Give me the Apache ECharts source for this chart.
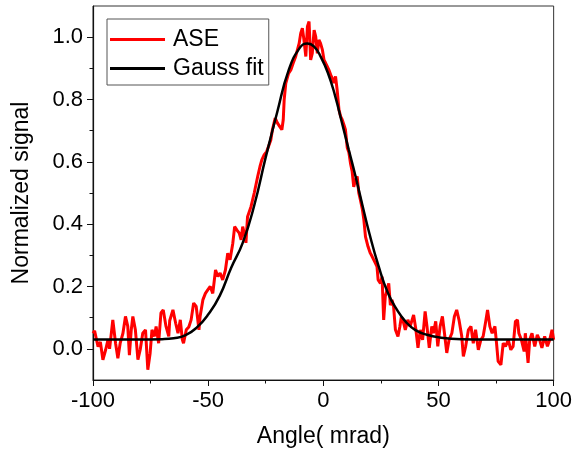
<!DOCTYPE html>
<html>
<head>
<meta charset="utf-8">
<script src="https://cdn.jsdelivr.net/npm/echarts@6/dist/echarts.min.js"></script>
<style>html,body{margin:0;padding:0;background:#fff}#c{width:575px;height:455px}</style>
</head>
<body>
<div id="c"></div>
<script>
// ASE measured signal (angle in mrad, normalized signal)
const aseAngle = [-100,-99.3,-98.5,-97.8,-96.8,-95.7,-94.5,-93.5,-92.8,-91.4,-90.2,-89.2,-88.2,-87.0,-85.9,-84.9,-84.2,-83.4,-82.7,-81.6,-80.5,-79.5,-78.4,-77.2,-76.2,-75.2,-74.4,-73.3,-72.6,-71.5,-70.5,-69.5,-68.3,-67.1,-66.7,-66.1,-65.3,-64.1,-63.1,-62.1,-61.2,-60.7,-59.5,-58.4,-57.4,-56.3,-55.2,-54.0,-53.5,-52.3,-51.2,-50.1,-49.1,-48.0,-46.8,-45.8,-44.8,-43.7,-42.5,-41.5,-40.5,-39.3,-38.5,-37.5,-36.5,-35.7,-35.0,-34.3,-33.6,-32.9,-31.4,-30.0,-28.5,-27.5,-26.7,-25.7,-24.6,-23.8,-22.8,-22.1,-20.9,-19.9,-18.9,-18.0,-17.4,-17.0,-16.3,-15.1,-14.1,-13.1,-12.0,-11.2,-10.5,-9.8,-9.1,-8.4,-7.6,-6.9,-6.2,-5.5,-4.8,-4.0,-3.3,-2.6,-1.9,-1.2,-0.4,0.3,1.0,1.7,2.4,3.2,3.9,4.6,5.3,6.0,6.8,7.5,8.2,8.9,9.6,10.4,11.1,11.8,12.5,13.2,14.0,14.7,15.4,16.1,16.9,17.6,18.3,19.4,20.4,21.2,22.6,23.3,23.8,24.8,25.5,26.2,26.9,27.7,28.4,29.1,29.8,30.5,31.3,32.4,33.2,33.9,34.9,35.6,36.7,37.7,39.2,40.2,41.1,42.1,43.1,44.2,45.0,46.0,47.1,47.8,48.8,49.7,50.7,51.7,52.6,53.6,54.6,55.8,56.9,57.9,58.9,60.1,60.8,61.8,63.0,64.1,65.1,66.1,67.3,68.4,69.4,70.5,71.3,72.3,73.3,74.5,75.2,75.9,77.1,78.1,79.1,80.3,81.4,82.4,83.4,84.3,84.9,86.0,87.2,87.7,88.9,89.6,90.6,91.8,92.9,93.9,94.9,96.1,97.3,98.3,99.3,100];
const aseSignal = [0.05,0.058,0.03,0.007,0.022,-0.035,-0.003,0.029,0.0,0.093,0.018,-0.03,0.018,0.05,0.104,0.072,-0.02,0.06,0.104,0.061,-0.035,-0.003,0.05,0.061,-0.067,-0.014,0.061,0.04,0.072,0.018,0.115,0.125,0.072,0.04,0.09,0.093,0.125,0.082,0.05,0.093,0.029,0.018,0.061,0.07,0.093,0.147,0.136,0.061,0.104,0.157,0.178,0.19,0.2,0.178,0.253,0.232,0.243,0.221,0.253,0.307,0.286,0.339,0.392,0.381,0.371,0.35,0.392,0.37,0.34,0.424,0.456,0.5,0.553,0.585,0.606,0.622,0.633,0.649,0.67,0.703,0.74,0.724,0.713,0.703,0.735,0.799,0.852,0.884,0.895,0.916,0.938,0.938,0.98,1.013,1.029,0.991,0.938,1.034,1.05,0.927,0.948,1.023,1.002,0.948,0.991,0.98,0.959,0.927,0.917,0.906,0.895,0.879,0.868,0.853,0.874,0.831,0.767,0.746,0.735,0.72,0.703,0.645,0.63,0.595,0.57,0.52,0.542,0.553,0.5,0.478,0.45,0.414,0.36,0.328,0.307,0.296,0.275,0.264,0.221,0.21,0.232,0.093,0.168,0.19,0.21,0.14,0.157,0.136,0.061,0.04,0.07,0.104,0.082,0.061,0.093,0.072,0.109,0.061,0.003,0.061,0.029,0.12,0.072,0.003,0.072,0.05,0.088,0.008,0.072,0.104,0.05,-0.013,0.029,0.05,0.104,0.125,0.093,0.04,-0.024,0.008,0.061,0.072,0.018,0.061,-0.003,0.029,0.04,0.088,0.125,0.072,0.05,0.072,0.018,-0.04,-0.051,0.018,0.008,0.029,-0.003,0.008,0.088,0.093,0.05,0.029,-0.008,0.05,-0.045,0.029,0.05,0.008,0.045,0.029,0.003,0.04,0.008,0.029,0.061,0.029];

// Gauss fit curve
const fitAngle = [-100,-90,-80,-70,-65,-60,-55,-50,-45,-40,-35,-30,-25,-20,-15,-10,-7,-4,-1,2,5,8,11,14,17,20,24,28,32,36,40,45,50,60,70,80,90,100];
const fitSignal = [0.03,0.03,0.03,0.031,0.034,0.043,0.068,0.11,0.17,0.26,0.34,0.46,0.615,0.76,0.895,0.968,0.98,0.97,0.935,0.885,0.815,0.728,0.64,0.553,0.46,0.37,0.265,0.18,0.125,0.085,0.06,0.045,0.037,0.031,0.03,0.03,0.03,0.03];

// tick labels
const yMajorTicks = [0, 0.2, 0.4, 0.6, 0.8, 1.0];
const yMinorTicks = [0.1, 0.3, 0.5, 0.7, 0.9];
const xTicks = [-100, -50, 0, 50, 100];

const FONT = 'Liberation Sans, Arial, sans-serif';
const chart = echarts.init(document.getElementById('c'), null, {renderer: 'canvas'});
const aseData = aseAngle.map((a, i) => [a, aseSignal[i]]);
const fitData = fitAngle.map((a, i) => [a, fitSignal[i]]);

chart.setOption({
  animation: false,
  backgroundColor: '#fff',
  grid: {left: 93, right: 19, top: 6, bottom: 75, show: true, borderColor: '#333', borderWidth: 1},
  legend: {
    data: [{name: 'ASE', icon: 'rect', itemStyle: {color: '#ff0000'}}, {name: 'Gauss fit', icon: 'rect', itemStyle: {color: '#000'}}],
    orient: 'vertical', left: 107, top: 19,
    backgroundColor: '#fff', borderColor: '#555', borderWidth: 1,
    padding: [9, 5, 5, 3], itemGap: 6, itemWidth: 55, itemHeight: 3,
    textStyle: {fontSize: 23, fontFamily: FONT, color: '#000', padding: [0, 0, 0, 3]}
  },
  xAxis: {
    type: 'value', min: -100, max: 100, interval: 50,
    name: 'Angle( mrad)', nameLocation: 'middle', nameGap: 45,
    nameTextStyle: {fontSize: 23, fontFamily: FONT, color: '#000'},
    axisLine: {show: true, onZero: false, lineStyle: {color: '#111', width: 1.2}},
    axisTick: {show: true, inside: false, length: 6, lineStyle: {color: '#111'}, customValues: xTicks},
    minorTick: {show: true, splitNumber: 2, length: 3.5, lineStyle: {color: '#111'}},
    axisLabel: {fontSize: 22, fontFamily: FONT, color: '#000', margin: 10, customValues: xTicks},
    splitLine: {show: false}
  },
  yAxis: [{
    type: 'value', min: -0.1, max: 1.1,
    name: 'Normalized signal', nameLocation: 'middle', nameGap: 60,
    nameTextStyle: {fontSize: 23, fontFamily: FONT, color: '#000'},
    axisLine: {show: true, onZero: false, lineStyle: {color: '#111', width: 1.2}},
    axisTick: {show: true, length: 6, lineStyle: {color: '#111'}, customValues: yMajorTicks},
    axisLabel: {fontSize: 22, fontFamily: FONT, color: '#000', margin: 10, customValues: yMajorTicks,
      formatter: v => v.toFixed(1)},
    splitLine: {show: false}
  }, {
    type: 'value', min: -0.1, max: 1.1, position: 'left',
    axisLine: {show: false, onZero: false},
    axisTick: {show: true, length: 3.5, lineStyle: {color: '#111'}, customValues: yMinorTicks},
    axisLabel: {show: false},
    splitLine: {show: false}
  }],
  series: [{
    name: 'ASE', type: 'line', data: aseData, symbol: 'none', smooth: false,
    lineStyle: {color: '#ff0000', width: 3}, itemStyle: {color: '#ff0000'}
  }, {
    name: 'Gauss fit', type: 'line', data: fitData, symbol: 'none', smooth: 0.5,
    lineStyle: {color: '#000', width: 2.5}, itemStyle: {color: '#000'}
  }]
});
</script>
</body>
</html>
